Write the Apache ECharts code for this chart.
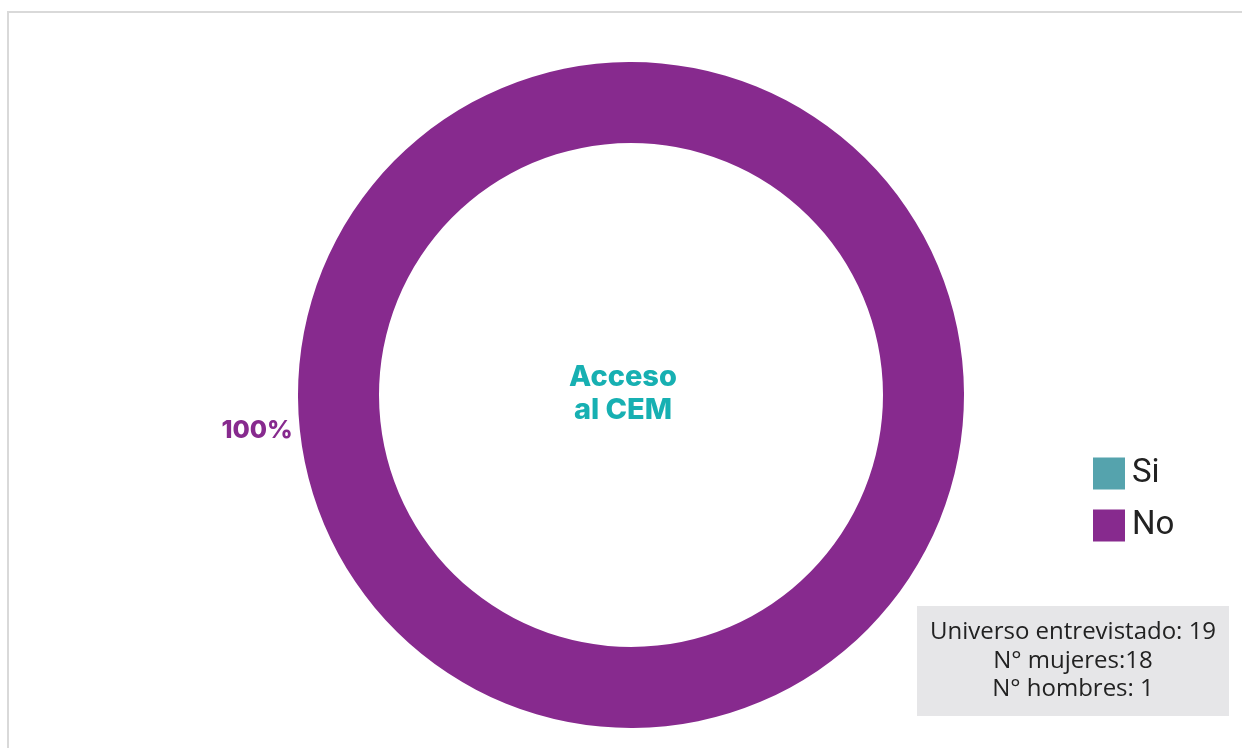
<!DOCTYPE html>
<html>
<head>
<meta charset="utf-8">
<script src="https://cdn.jsdelivr.net/npm/echarts@6/dist/echarts.min.js"></script>
<style>html,body{margin:0;padding:0;background:#fff;}#c{width:1242px;height:748px;}</style>
</head>
<body>
<div id="c"></div>
<script>
const categories = ['Si', 'No'];
const values = [0, 100];
const colors = ['#55a3ad', '#872a8e'];
const centerTitle = 'Acceso\nal CEM';
const noteLines = ['Universo entrevistado: 19', 'N° mujeres:18', 'N° hombres: 1'];

const chart = echarts.init(document.getElementById('c'), null, {renderer: 'canvas'});
const data = categories.map((c, i) => ({
  name: c,
  value: values[i],
  itemStyle: {color: colors[i]},
  label: {show: values[i] > 0}
}));
chart.setOption({
  backgroundColor: '#fff',
  animation: false,
  legend: {
    orient: 'vertical',
    left: 1088,
    top: 452,
    icon: 'rect',
    itemWidth: 32,
    itemHeight: 32,
    itemGap: 19,
    data: categories,
    textStyle: {fontFamily: 'Roboto', fontSize: 33, color: '#222', padding: [0, 0, 0, 2]}
  },
  graphic: [
    {type: 'rect', z: -1, shape: {x: 8, y: 12, width: 1300, height: 800}, style: {fill: 'none', stroke: '#d9d9d9', lineWidth: 2}},
    {type: 'text', x: 623, y: 394, style: {text: centerTitle, fill: '#17b0b2', font: '800 29px Inter', align: 'center', verticalAlign: 'middle', lineHeight: 33}},
    {type: 'rect', shape: {x: 917, y: 606, width: 312, height: 110}, style: {fill: '#e6e6e8'}},
    {type: 'text', x: 1073, y: 661, style: {text: noteLines.join('\n'), fill: '#222', font: '400 24px "Open Sans"', align: 'center', verticalAlign: 'middle', lineHeight: 28.5}}
  ],
  series: [{
    type: 'pie',
    center: [631, 395],
    radius: [252, 333],
    startAngle: 6,
    clockwise: true,
    avoidLabelOverlap: false,
    silent: true,
    label: {
      show: true,
      position: 'outside',
      formatter: '{d}%',
      color: '#872a8e',
      fontFamily: 'Inter',
      fontWeight: 800,
      fontSize: 25
    },
    labelLine: {show: false, length: 2, length2: 0},
    data: data
  }]
});
</script>
</body>
</html>
